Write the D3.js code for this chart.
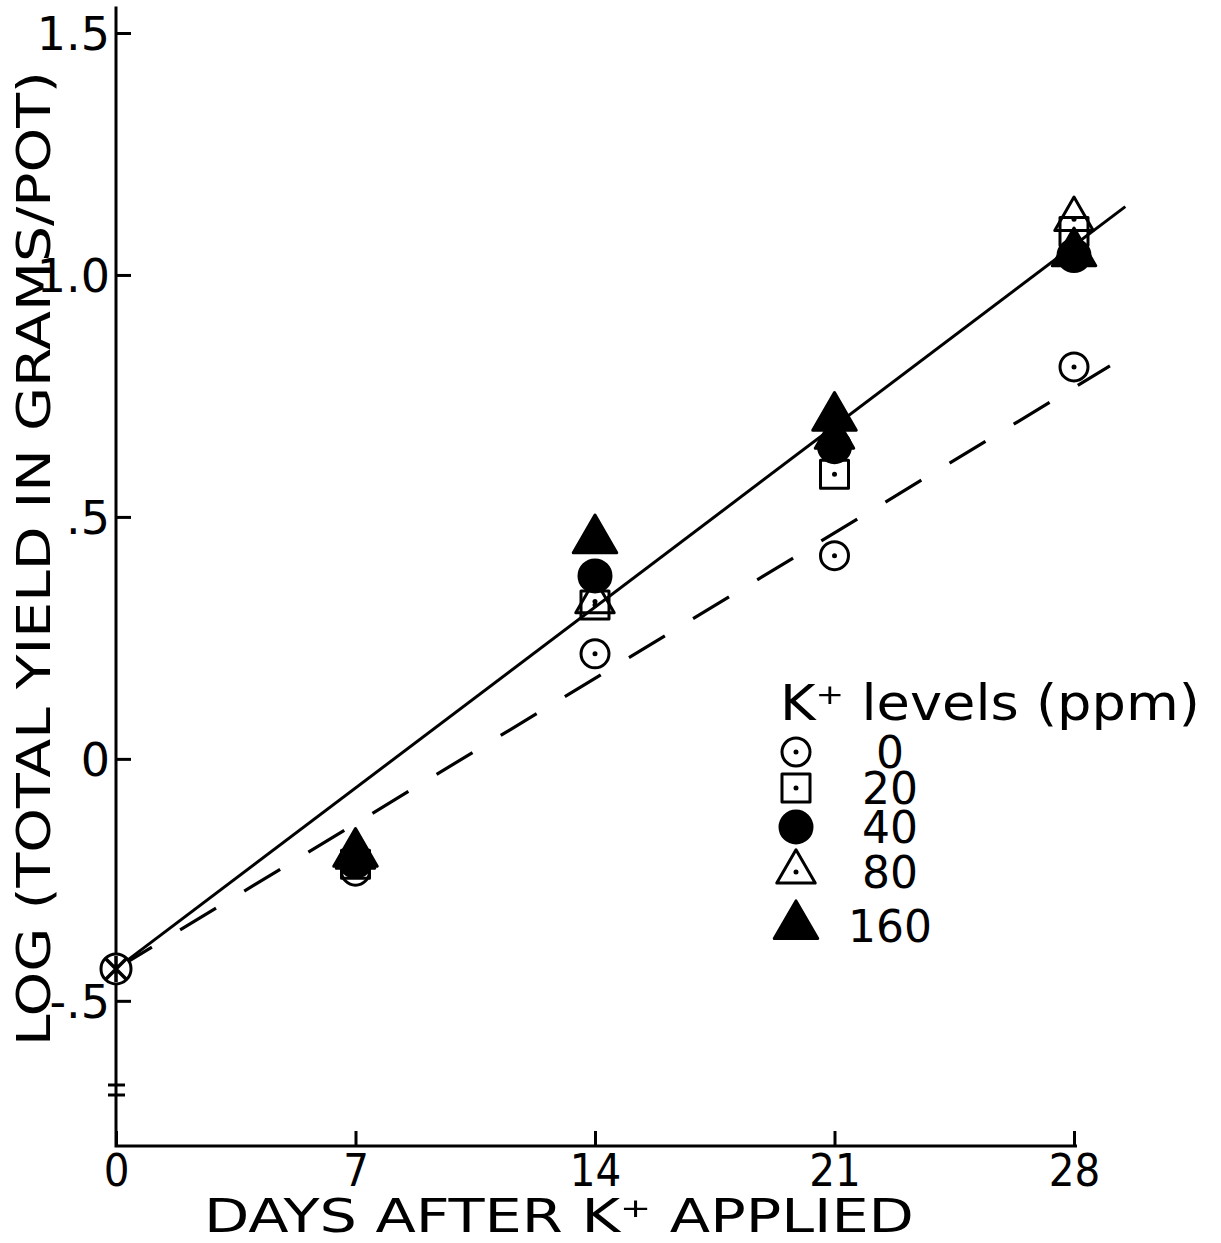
<!DOCTYPE html>
<html>
<head>
<meta charset="utf-8">
<script src="https://cdn.jsdelivr.net/npm/d3@7"></script>
<style>
  html, body { margin: 0; padding: 0; background: #fff; }
</style>
</head>
<body>
<div id="chart"></div>
<script>
// values
const days = [0, 7, 14, 21, 28];
const levels = ["0", "20", "40", "80", "160"];
const yield0   = [-0.434, -0.232, 0.217, 0.420, 0.810];
const yield20  = [-0.434, -0.218, 0.318, 0.588, 1.090];
const yield40  = [-0.434, -0.212, 0.378, 0.645, 1.040];
const yield80  = [-0.434, -0.203, 0.325, 0.665, 1.115];
const yield160 = [-0.434, -0.196, 0.452, 0.705, 1.045];
const yTicks = [-0.5, 0, 0.5, 1.0, 1.5];
const yTickLabels = ["-.5", "0", ".5", "1.0", "1.5"];
const xTicks = [0, 7, 14, 21, 28];
// fitted lines: start day, end day, intercept, slope
const solidFit = {from: 0, to: 29.5, a: -0.434, b: 0.0534};
const dashFit  = {from: 0, to: 29.05, a: -0.434, b: 0.0429};

const width = 1221, height = 1243;

const svg = d3.select("#chart").append("svg")
    .attr("width", width)
    .attr("height", height)
    .style("background", "#fff");

const x = d3.scaleLinear().domain([0, 28]).range([116, 1074]);
const y = d3.scaleLinear().domain([-0.8, 1.5]).range([1146, 33]);

const ink = "#000";

// axes lines
svg.append("path")
    .attr("d", `M${x(0)},${y(1.555)}V${y(-0.8)}H${x(28) + 3}`)
    .attr("fill", "none")
    .attr("stroke", ink)
    .attr("stroke-width", 3);

// y axis ticks (pointing inward) and labels
const yAxis = svg.append("g")
    .attr("transform", `translate(${x(0)},0)`)
    .call(d3.axisLeft(y).tickValues(yTicks)
      .tickFormat((d, i) => yTickLabels[i])
      .tickSize(-15).tickSizeOuter(0).tickPadding(6));
yAxis.select(".domain").remove();
yAxis.selectAll(".tick line").attr("stroke", ink).attr("stroke-width", 3);
yAxis.selectAll(".tick text")
    .attr("fill", ink)
    .style("font", "46px 'DejaVu Sans'")
    .attr("dy", "0.36em");

// axis break marks
[1085, 1095].forEach(py => {
  svg.append("line")
      .attr("x1", x(0) - 8).attr("x2", x(0) + 9)
      .attr("y1", py).attr("y2", py)
      .attr("stroke", ink).attr("stroke-width", 3);
});

// x axis ticks (pointing up) and labels
const xAxis = svg.append("g")
    .attr("transform", `translate(0,${y(-0.8)})`)
    .call(d3.axisBottom(x).tickValues(xTicks)
      .tickSize(-15).tickSizeOuter(0).tickPadding(8));
xAxis.select(".domain").remove();
xAxis.selectAll(".tick line").attr("stroke", ink).attr("stroke-width", 3);
xAxis.selectAll(".tick text")
    .attr("fill", ink)
    .style("font", "45px 'DejaVu Sans Condensed'");

// axis titles
svg.append("text")
    .attr("x", 204)
    .attr("y", 1232)
    .attr("textLength", 710)
    .attr("lengthAdjust", "spacingAndGlyphs")
    .style("font", "47px 'DejaVu Sans Condensed'")
    .attr("fill", ink)
    .text("DAYS AFTER K⁺ APPLIED");

svg.append("text")
    .attr("transform", "translate(50,1046) rotate(-90)")
    .attr("textLength", 975)
    .attr("lengthAdjust", "spacingAndGlyphs")
    .style("font", "46px 'DejaVu Sans'")
    .attr("fill", ink)
    .text("LOG (TOTAL YIELD IN GRAMS/POT)");

// fitted lines
const fitLine = f => d3.line()
    .x(d => x(d))
    .y(d => y(f.a + f.b * d))([f.from, f.to]);

svg.append("path")
    .attr("d", fitLine(solidFit))
    .attr("fill", "none")
    .attr("stroke", ink)
    .attr("stroke-width", 3);

svg.append("path")
    .attr("d", fitLine(dashFit))
    .attr("fill", "none")
    .attr("stroke", ink)
    .attr("stroke-width", 3.2)
    .attr("stroke-dasharray", "42 33");

// marker styles per K level
const markers = {
  "0":   {type: d3.symbolCircle,   size: Math.PI * 14 * 14, filled: false},
  "20":  {type: d3.symbolSquare,   size: 28 * 28,           filled: false},
  "40":  {type: d3.symbolCircle,   size: Math.PI * 16 * 16, filled: true},
  "80":  {type: d3.symbolTriangle, size: 640,               filled: false},
  "160": {type: d3.symbolTriangle, size: 820,               filled: true}
};

// drawing order: filled markers last so they sit on top
const series = [
  {level: "0", values: yield0},
  {level: "20", values: yield20},
  {level: "80", values: yield80},
  {level: "160", values: yield160},
  {level: "40", values: yield40}
];

function drawMarker(g, level) {
  const m = markers[level];
  g.append("path")
      .attr("d", d3.symbol().type(m.type).size(m.size)())
      .attr("fill", m.filled ? ink : "none")
      .attr("stroke", ink)
      .attr("stroke-width", 3)
      .attr("stroke-linejoin", "round");
  if (!m.filled) {
    g.append("circle").attr("r", 2.5).attr("fill", ink);
  }
}

const gPts = svg.append("g");
series.forEach(s => {
  s.values.forEach((v, i) => {
    if (days[i] === 0) return;
    const g = gPts.append("g")
        .attr("transform", `translate(${x(days[i])},${y(v)})`);
    drawMarker(g, s.level);
  });
});

// common starting point (circle with a cross)
const start = svg.append("g")
    .attr("transform", `translate(${x(0)},${y(yield0[0])})`);
start.append("circle")
    .attr("r", 15)
    .attr("fill", "#fff")
    .attr("stroke", ink)
    .attr("stroke-width", 3);
start.append("path")
    .attr("d", "M-10,-10L10,10M-10,10L10,-10M0,-13V13")
    .attr("stroke", ink)
    .attr("stroke-width", 3.5);

// legend
const legendRowY = [752, 788, 827, 872, 926];
const legend = svg.append("g");
legend.append("text")
    .attr("x", 780)
    .attr("y", 720)
    .attr("textLength", 420)
    .attr("lengthAdjust", "spacingAndGlyphs")
    .style("font", "50px 'DejaVu Sans'")
    .attr("fill", ink)
    .text("K⁺ levels (ppm)");

levels.forEach((lv, i) => {
  const g = legend.append("g")
      .attr("transform", `translate(796,${legendRowY[i]})`);
  drawMarker(g, lv);
  legend.append("text")
      .attr("x", 890)
      .attr("y", legendRowY[i])
      .attr("dy", "0.36em")
      .attr("text-anchor", "middle")
      .style("font", "44px 'DejaVu Sans'")
      .attr("fill", ink)
      .text(lv);
});
</script>
</body>
</html>
